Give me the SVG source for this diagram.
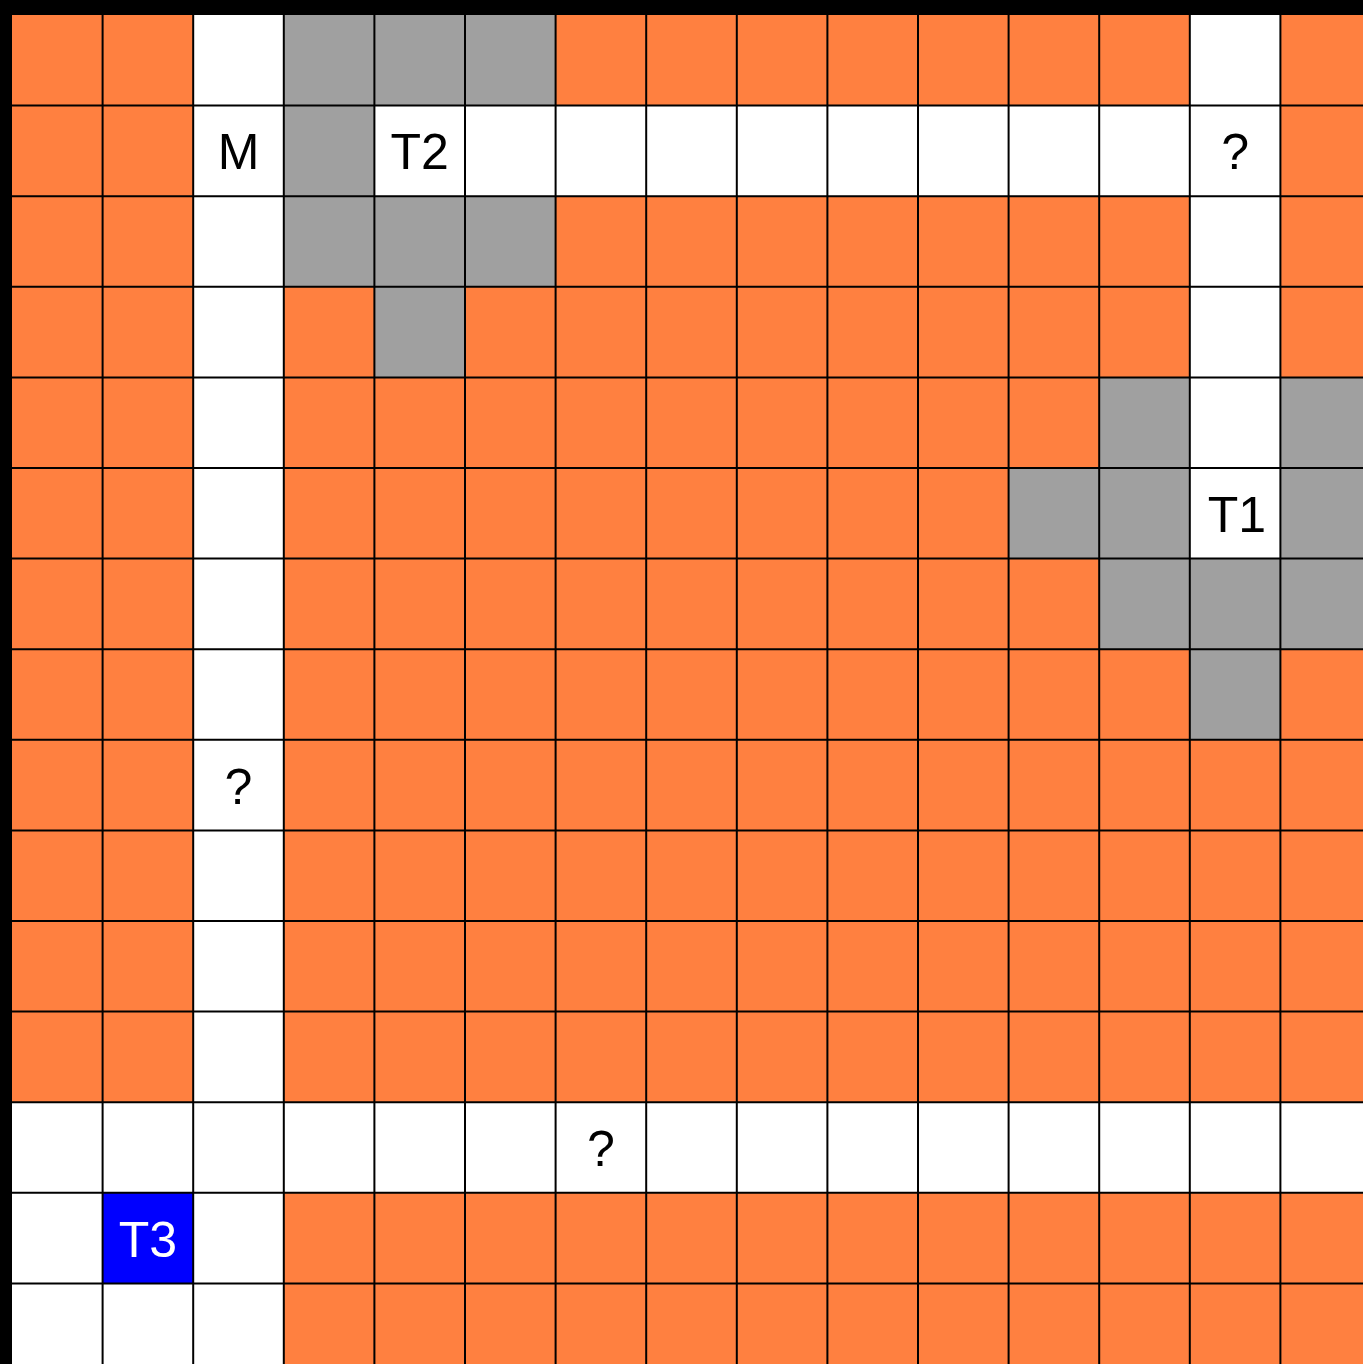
<svg xmlns="http://www.w3.org/2000/svg" width="1363" height="1364" viewBox="0 0 1363 1364">
<style>
.o{fill:#ff8040}.w{fill:#ffffff}.g{fill:#a0a0a0}.b{fill:#0000ff}
.ln{stroke:#000;stroke-width:2;fill:none}
.t{font-family:"Liberation Sans",Arial,sans-serif;font-size:50px;text-anchor:middle;fill:#000}
.tw{fill:#fff}
</style>
<rect x="0" y="0" width="1363" height="1364" fill="#000"/>
<g transform="translate(12,15)">
<g id="cells">
<rect class="o" x="0" y="0" width="1359" height="1359"/>
<rect class="w" x="181.2" y="0" width="90.6" height="1359"/>
<rect class="w" x="362.4" y="90.6" width="906" height="90.6"/>
<rect class="w" x="1177.8" y="0" width="90.6" height="543.6"/>
<rect class="w" x="0" y="1087.2" width="1359" height="90.6"/>
<rect class="w" x="0" y="1177.8" width="271.8" height="181.2"/>
<rect class="g" x="271.8" y="0" width="271.8" height="90.6"/>
<rect class="g" x="271.8" y="90.6" width="90.6" height="90.6"/>
<rect class="g" x="271.8" y="181.2" width="271.8" height="90.6"/>
<rect class="g" x="362.4" y="271.8" width="90.6" height="90.6"/>
<rect class="g" x="1087.2" y="362.4" width="90.6" height="90.6"/>
<rect class="g" x="1268.4" y="362.4" width="90.6" height="181.2"/>
<rect class="g" x="996.6" y="453" width="181.2" height="90.6"/>
<rect class="g" x="1087.2" y="543.6" width="271.8" height="90.6"/>
<rect class="g" x="1177.8" y="634.2" width="90.6" height="90.6"/>
</g>
<g id="T3"><rect class="b" x="90.6" y="1177.8" width="90.6" height="90.6"/></g>
<g id="grid" class="ln">
<path d="M90.6 0V1359M181.2 0V1359M271.8 0V1359M362.4 0V1359M453 0V1359M543.6 0V1359M634.2 0V1359M724.8 0V1359M815.4 0V1359M906 0V1359M996.6 0V1359M1087.2 0V1359M1177.8 0V1359M1268.4 0V1359"/>
<path d="M0 90.6H1359M0 181.2H1359M0 271.8H1359M0 362.4H1359M0 453H1359M0 543.6H1359M0 634.2H1359M0 724.8H1359M0 815.4H1359M0 906H1359M0 996.6H1359M0 1087.2H1359M0 1177.8H1359M0 1268.4H1359"/>
</g>
<g id="labels">
<text class="t" x="226.5" y="154">M</text>
<text class="t" x="407.7" y="154">T2</text>
<text class="t" x="1223.1" y="154">?</text>
<text class="t" x="1225" y="517">T1</text>
<text class="t" x="226.5" y="789">?</text>
<text class="t" x="588.9" y="1151">?</text>
<text class="t tw" x="135.9" y="1242">T3</text>
</g>
</g>
</svg>
